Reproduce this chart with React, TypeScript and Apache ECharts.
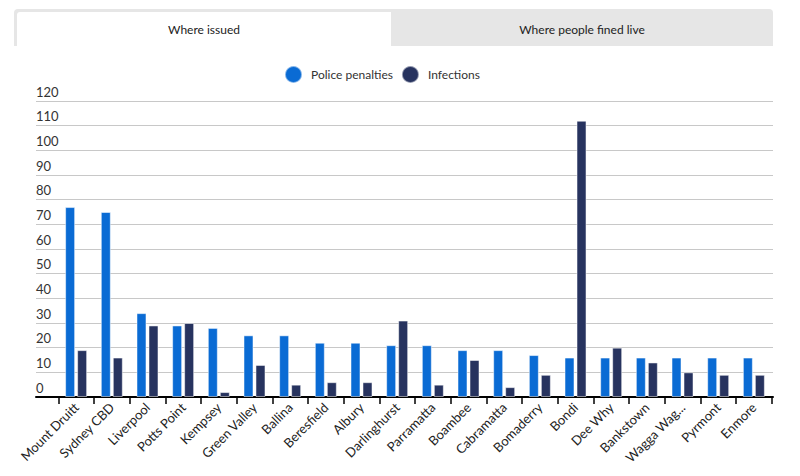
import React, { useEffect, useRef } from 'react';
import * as echarts from 'echarts';

const categories = [
  'Mount Druitt', 'Sydney CBD', 'Liverpool', 'Potts Point', 'Kempsey', 'Green Valley',
  'Ballina', 'Beresfield', 'Albury', 'Darlinghurst', 'Parramatta', 'Boambee',
  'Cabramatta', 'Bomaderry', 'Bondi', 'Dee Why', 'Bankstown', 'Wagga Wagga',
  'Pyrmont', 'Enmore',
];
// Tick labels as displayed (the chart shortens long names)
const tickLabels = [
  'Mount Druitt', 'Sydney CBD', 'Liverpool', 'Potts Point', 'Kempsey', 'Green Valley',
  'Ballina', 'Beresfield', 'Albury', 'Darlinghurst', 'Parramatta', 'Boambee',
  'Cabramatta', 'Bomaderry', 'Bondi', 'Dee Why', 'Bankstown', 'Wagga Wag...',
  'Pyrmont', 'Enmore',
];
const policePenalties = [77, 75, 34, 29, 28, 25, 25, 22, 22, 21, 21, 19, 19, 17, 16, 16, 16, 16, 16, 16];
const infections = [19, 16, 29, 30, 2, 13, 5, 6, 6, 31, 5, 15, 4, 9, 112, 20, 14, 10, 9, 9];
const seriesNames = ['Police penalties', 'Infections'];
const tabLabels = ['Where issued', 'Where people fined live'];
const yMin = 0;
const yMax = 120;
const yInterval = 10;

const FONT = 'Lato, "Noto Sans", sans-serif';
const BLUE = '#0a6bd4';
const NAVY = '#27335f';

export default function App() {
  const ref = useRef<HTMLDivElement>(null);
  useEffect(() => {
    if (!ref.current) return;
    const chart = echarts.init(ref.current, null, { renderer: 'svg' });
    const gridTop = 101;
    const gridBottom = 79;
    chart.setOption({
      animation: false,
      textStyle: { fontFamily: FONT },
      graphic: [
        { type: 'rect', shape: { x: 14, y: 9, width: 759, height: 37, r: [4, 4, 0, 0] }, style: { fill: '#e6e6e6' } },
        { type: 'rect', shape: { x: 17, y: 12, width: 374, height: 34, r: [3, 0, 0, 0] }, style: { fill: '#ffffff' } },
        { type: 'text', x: 204, y: 29, style: { text: tabLabels[0], fill: '#222', font: `12px ${FONT}`, align: 'center', verticalAlign: 'middle' } },
        { type: 'text', x: 582, y: 29, style: { text: tabLabels[1], fill: '#222', font: `12px ${FONT}`, align: 'center', verticalAlign: 'middle' } },
      ],
      legend: {
        top: 60,
        left: 279,
        icon: 'circle',
        itemWidth: 25,
        itemHeight: 17,
        itemGap: 8,
        data: seriesNames,
        textStyle: { color: '#333', fontSize: 12, fontFamily: FONT },
      },
      grid: [
        { left: 36, right: 27, top: gridTop, bottom: gridBottom },
        { left: 58.3, right: 28.3, top: gridTop, bottom: gridBottom },
      ],
      xAxis: [
        {
          gridIndex: 0, type: 'value', min: 0, max: 1,
          axisLine: { show: true, lineStyle: { color: '#000', width: 2 } },
          axisTick: { show: false }, axisLabel: { show: false }, splitLine: { show: false },
        },
        {
          gridIndex: 1, type: 'category', data: categories, boundaryGap: true,
          axisLine: { show: false },
          axisTick: { show: true, length: 7, lineStyle: { color: '#000', width: 1.5 } },
          axisLabel: {
            interval: 0, rotate: 45, margin: 8, fontSize: 13, color: '#222', fontFamily: FONT,
            formatter: (_v: string, i: number) => tickLabels[i],
          },
        },
      ],
      yAxis: [
        {
          gridIndex: 0, type: 'value', min: yMin, max: yMax, interval: yInterval,
          axisLine: { show: false }, axisTick: { show: false },
          axisLabel: { inside: true, margin: 0, align: 'left', verticalAlign: 'bottom', padding: [0, 0, 3, 0], fontSize: 13, color: '#333', fontFamily: FONT },
          splitLine: { show: true, lineStyle: { color: '#c8c8c8', width: 1 } },
        },
        {
          gridIndex: 1, type: 'value', min: yMin, max: yMax, interval: yInterval, show: false,
          splitLine: { show: false },
        },
      ],
      series: [
        {
          name: seriesNames[0], type: 'bar', xAxisIndex: 1, yAxisIndex: 1, data: policePenalties,
          barWidth: 10, barGap: '20%',
          itemStyle: { color: BLUE, borderColor: 'rgba(255,255,255,0.5)', borderWidth: 1 },
        },
        {
          name: seriesNames[1], type: 'bar', xAxisIndex: 1, yAxisIndex: 1, data: infections,
          barWidth: 10, barGap: '20%',
          itemStyle: { color: NAVY, borderColor: 'rgba(255,255,255,0.5)', borderWidth: 1 },
        },
      ],
    });
    return () => chart.dispose();
  }, []);
  return (
    <div
      ref={ref}
      style={{ position: 'fixed', left: 0, top: 0, width: 800, height: 476, background: '#fff' }}
    />
  );
}
